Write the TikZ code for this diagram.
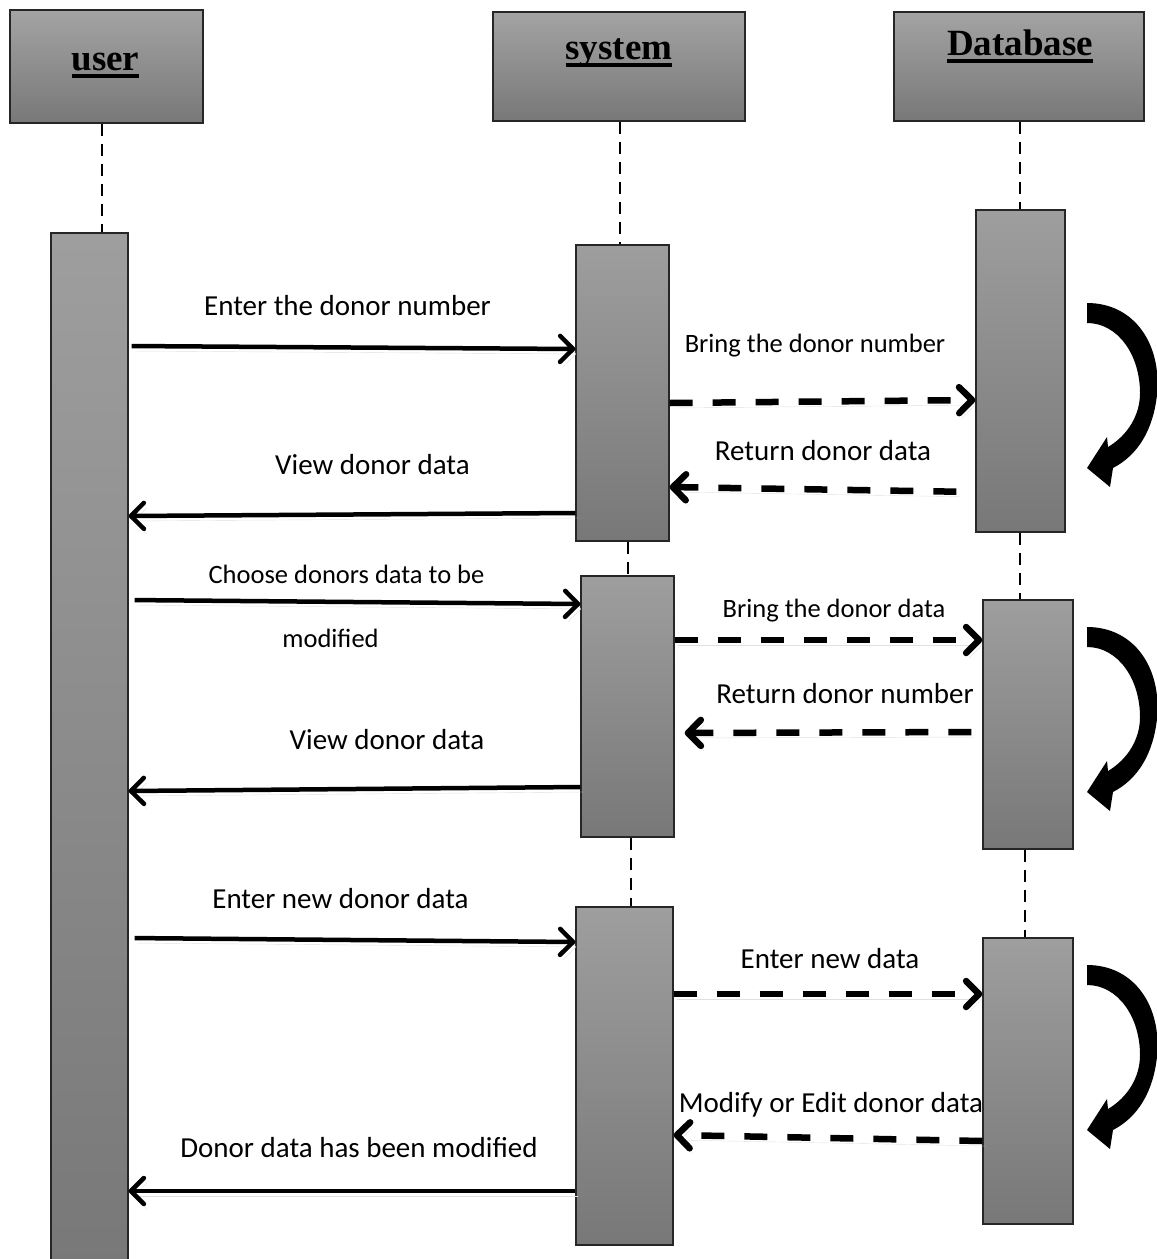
\documentclass[tikz,border=0pt]{standalone}
\usepackage{fontspec}
\usetikzlibrary{arrows.meta}

\newfontfamily\lblfont{Carlito}
\newfontfamily\hdrfont{Liberation Serif}
% thick underline for the lifeline titles
\newcommand{\hdrline}[1]{\setbox0\hbox{#1}\rlap{\rule[-7.5pt]{\wd0}{3.5pt}}\box0}

\tikzset{
  hdr/.style={draw=black!85, line width=1.3pt, top color=black!36, bottom color=black!53, inner sep=0pt},
  act/.style={draw=black!85, line width=1.3pt, top color=black!38, bottom color=black!53, inner sep=0pt},
  title/.style={font=\hdrfont\bfseries\fontsize{37}{40}\selectfont, anchor=base, inner sep=0pt},
  lbl/.style={font=\lblfont\fontsize{29}{32}\selectfont, anchor=base, inner sep=0pt},
  lblsmall/.style={lbl, font=\lblfont\fontsize{26.5}{30}\selectfont},
  life/.style={line width=2.5pt, dash pattern=on 12pt off 8pt},
  call/.style={line width=4.5pt, -{Straight Barb[length=13pt, width=26pt, round]},
    preaction={draw=black!12, transform canvas={shift={(3pt,-5pt)}}}},
  reply/.style={call, line width=6.5pt, dash pattern=on 23pt off 20pt},
  selfloop/.style={fill=black}
}

\begin{document}
\begin{tikzpicture}[x=1pt, y=-1pt]
  \useasboundingbox (0,0) rectangle (1157,1259);
  \clip (0,0) rectangle (1157,1259);

  % lifeline heads
  \node[hdr, minimum width=193pt, minimum height=113pt] (user) at (106.5,66.5) {};
  \node[hdr, minimum width=252pt, minimum height=109pt] (system) at (619,66.5) {};
  \node[hdr, minimum width=250pt, minimum height=109pt] (database) at (1019,66.5) {};
  \node[title] (usert) at (105.5,70) {\hdrline{user}};
  \node[title] (systemt) at (619,59) {\hdrline{system}};
  \node[title] (databaset) at (1020,55) {\hdrline{Database}};

  % activation bars
  \node[act, minimum width=77pt, minimum height=1037pt] (uact) at (89.5,751.5) {};
  \node[act, minimum width=93pt, minimum height=296pt] (sys1) at (622.5,393) {};
  \node[act, minimum width=93pt, minimum height=261pt] (sys2) at (627.5,706.5) {};
  \node[act, minimum width=97pt, minimum height=338pt] (sys3) at (624.5,1076) {};
  \node[act, minimum width=89pt, minimum height=322pt] (db1) at (1020.5,371) {};
  \node[act, minimum width=90pt, minimum height=249pt] (db2) at (1028,724.5) {};
  \node[act, minimum width=90pt, minimum height=286pt] (db3) at (1028,1081) {};

  % dashed lifelines
  \draw[life] (user.south -| 102,0) -- (uact.north -| 102,0);
  \draw[life] (system.south -| 620,0) -- (sys1.north -| 620,0);
  \draw[life] (sys1.south -| 628,0) -- (sys2.north -| 628,0);
  \draw[life] (sys2.south -| 631,0) -- (sys3.north -| 631,0);
  \draw[life] (database.south -| 1020,0) -- (db1.north -| 1020,0);
  \draw[life] (db1.south -| 1020,0) -- (db2.north -| 1020,0);
  \draw[life] (db2.south -| 1025,0) -- (db3.north -| 1025,0);

  % messages
  \draw[call, shorten <=3pt] (uact.east |- 0,346) -- (sys1.west |- 0,349);
  \draw[reply] (sys1.east |- 0,403) -- (db1.west |- 0,400);
  \draw[reply, shorten <=19pt] (db1.west |- 0,492) -- (sys1.east |- 0,487);
  \draw[call] (sys1.west |- 0,513) -- (uact.east |- 0,516);
  \draw[call, shorten <=6pt] (uact.east |- 0,600) -- (sys2.west |- 0,604);
  \draw[reply] (sys2.east |- 0,640) -- (db2.west |- 0,640);
  \draw[reply, shorten <=11pt, shorten >=10pt] (db2.west |- 0,732) -- (sys2.east |- 0,733);
  \draw[call] (sys2.west |- 0,787) -- (uact.east |- 0,791);
  \draw[call, shorten <=6pt] (uact.east |- 0,938) -- (sys3.west |- 0,942);
  \draw[reply] (sys3.east |- 0,994) -- (db3.west |- 0,994);
  \draw[reply] (db3.west |- 0,1141) -- (sys3.east |- 0,1135);
  \draw[call] (sys3.west |- 0,1191) -- (uact.east |- 0,1191);

  % self calls of the database (curled block arrows)
  \foreach \dy in {0,324,662}
    \fill[selfloop, shift={(0,\dy)}] (1087,303) .. controls (1135,303) and (1162,345) .. (1157,395)
      .. controls (1153,430) and (1138,455) .. (1113,468) -- (1110,487) -- (1087,468)
      -- (1107,437) -- (1108,447) .. controls (1128,435) and (1140,415) .. (1140,393)
      .. controls (1140,355) and (1118,323) .. (1087,323) -- cycle;

  % message labels
  \node[lbl] (l1) at (347.5,315) {Enter the donor number};
  \node[lblsmall] (l2) at (815,352) {Bring the donor number};
  \node[lbl] (l3) at (823,460) {Return donor data};
  \node[lbl] (l4) at (372.5,474) {View donor data};
  \node[lblsmall] (l5) at (346.5,583) {Choose donors data to be};
  \node[lblsmall] (l6) at (330.5,647) {modified};
  \node[lblsmall] (l7) at (834,617) {Bring the donor data};
  \node[lbl] (l8) at (845,703) {Return donor number};
  \node[lbl] (l9) at (387,749) {View donor data};
  \node[lbl] (l10) at (340.5,908) {Enter new donor data};
  \node[lbl] (l11) at (830,968) {Enter new data};
  \node[lbl] (l12) at (831,1112) {Modify or Edit donor data};
  \node[lbl] (l13) at (359,1157) {Donor data has been modified};
\end{tikzpicture}
\end{document}
